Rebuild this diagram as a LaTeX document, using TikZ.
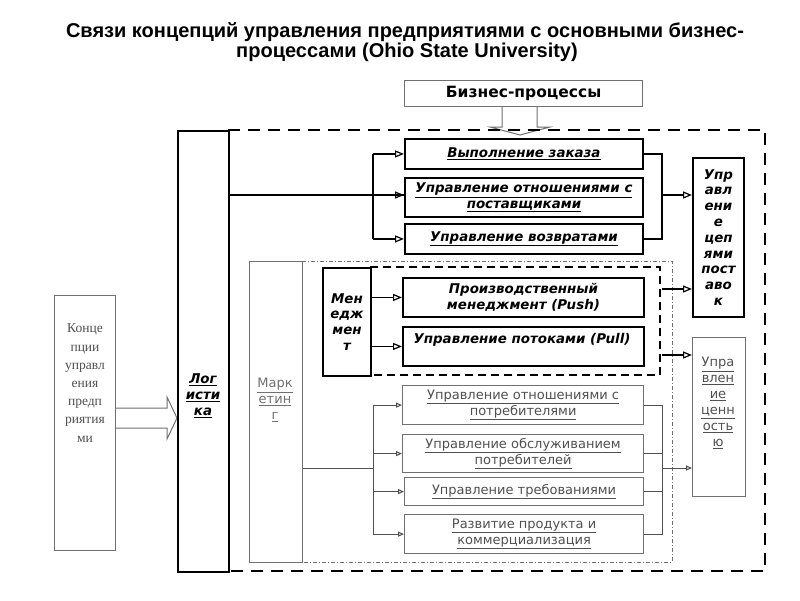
\documentclass[tikz,border=0pt]{standalone}
\usepackage{fontspec}
\setmainfont{DejaVu Sans}
\newfontfamily\titlefont{Liberation Sans}
\newfontfamily\serfont{Liberation Serif}
\usetikzlibrary{arrows.meta}
\definecolor{dgray}{HTML}{505050}
\definecolor{mgray}{HTML}{707070}
\newcommand\myul[1]{\underline{#1}}
\begin{document}
\begin{tikzpicture}[x=1pt,y=-1pt,line join=miter]
\tikzset{
 boxk/.style={draw=black, line width=1.9pt, fill=white, inner sep=0pt, anchor=north west, align=center},
 boxg/.style={draw=mgray, line width=1.2pt, fill=white, inner sep=0pt, anchor=north west, align=center},
 bi/.style={font=\fontsize{13.4}{15.8}\selectfont\bfseries\itshape},
 rg/.style={font=\fontsize{13}{16}\selectfont, text=dgray},
 conn/.style={line width=1.6pt, black},
 connarr/.style={conn, -{Triangle[open,length=9pt,width=7pt,line width=1.2pt]}},
 lconn/.style={line width=1pt, dgray},
 lconnarr/.style={lconn, -{Triangle[open,length=6pt,width=5pt]}},
 hollow/.style={draw=mgray, line width=1pt, fill=white},
 bigdash/.style={line width=1.9pt, dash pattern=on 12pt off 8pt},
 mdash/.style={line width=1.5pt, dash pattern=on 8pt off 5pt},
 ddot/.style={line width=0.8pt, mgray, dash pattern=on 4pt off 2pt on 1pt off 2pt},
}
\useasboundingbox (0,0) rectangle (800,600);
\fill[white] (0,0) rectangle (800,600);

% title
\node[anchor=base, font=\titlefont\fontsize{20}{22}\selectfont\bfseries] (t1) at (405,37) {Связи концепций управления предприятиями с основными бизнес-};
\node[anchor=base, font=\titlefont\fontsize{20}{22}\selectfont\bfseries] (t2) at (407,57) {процессами (Ohio State University)};

% hollow arrows
\draw[hollow] (502,106) -- (502,127) -- (490,127) -- (520,135) -- (550,127) -- (537,127) -- (537,106);
\draw[hollow] (115,408) -- (167,408) -- (167,397) -- (177,418) -- (167,439) -- (167,428) -- (115,428);

% frames
\draw[bigdash] (228,130) -- (765,130) -- (765,571) -- (228,571);
\draw[ddot] (302,261) -- (672,261) -- (672,562) -- (302,562);
\draw[mdash] (370,267) -- (660,267) -- (660,375) -- (370,375);

% nodes
\node[boxg, minimum width=238, minimum height=26, font=\fontsize{15.5}{17}\selectfont\bfseries] (bp) at (404,80) {Бизнес-процессы};
\node[boxk, minimum width=51, minimum height=441] (log) at (177,130) {};
\node[bi, align=center] (logt) at (203,396) {\myul{Лог}\\\myul{исти}\\\myul{ка}};

\node[boxk, bi, minimum width=238, minimum height=30] (vz) at (404,138) {\myul{Выполнение заказа}};
\node[boxk, bi, minimum width=238, minimum height=39] (uop) at (404,177) {\myul{Управление отношениями с}\\\myul{поставщиками}};
\node[boxk, bi, minimum width=238, minimum height=30] (uv) at (404,223) {\myul{Управление возвратами}};
\node[boxk, bi, minimum width=51, minimum height=159] (ucp) at (692,157) {Упр\\авл\\ени\\е\\цеп\\ями\\пост\\аво\\к};

\node[boxg, line width=1pt, minimum width=53, minimum height=301] (mkt) at (249,261) {};
\node[rg, text=mgray, align=center] (mktt) at (275,400) {\myul{Марк}\\\myul{етин}\\\myul{г}};

\node[boxk, bi, minimum width=48, minimum height=108] (men) at (322,267) {Мен\\едж\\мен\\т};
\node[boxk, bi, minimum width=241, minimum height=39] (pm) at (402,277) {Производственный\\менеджмент (Push)};
\node[boxk, minimum width=241, minimum height=39] (upp) at (402,326) {};
\node[bi, anchor=north] (uppt) at (522,330) {Управление потоками (Pull)};

\node[boxg, line width=1pt, minimum width=53, minimum height=159] (uc) at (692,337) {};
\node[rg, align=center] (uct) at (718,403) {\myul{Упра}\\\myul{влен}\\\myul{ие}\\\myul{ценн}\\\myul{ость}\\\myul{ю}};

\node[boxg, rg, minimum width=241, minimum height=39] (c1) at (402,385) {\myul{Управление отношениями с}\\\myul{потребителями}};
\node[boxg, rg, minimum width=241, minimum height=38] (c2) at (402,434) {\myul{Управление обслуживанием}\\\myul{потребителей}};
\node[boxg, rg, minimum width=239, minimum height=28] (c3) at (404,477) {\myul{Управление требованиями}};
\node[boxg, rg, minimum width=239, minimum height=39] (c4) at (404,514) {\myul{Развитие продукта и}\\\myul{коммерциализация}};

\node[boxg, line width=1pt, minimum width=61, minimum height=255] (conc) at (54,295) {};
\node[align=center, text=dgray, font=\serfont\fontsize{13.5}{18.2}\selectfont] (conct) at (85,383) {Конце\\пции\\управл\\ения\\предп\\риятия\\ми};

% upper connectors
\coordinate (ja) at (373,195);
\draw[conn] (log.east |- ja) -- (ja -| uop.west);
\draw[conn] (ja |- vz.west) -- (ja |- uv.west);
\draw[connarr] (ja |- vz.west) -- (vz.west);
\draw[connarr] (ja) -- (ja -| uop.west);
\draw[connarr] (ja |- uv.west) -- (uv.west);

\coordinate (jb) at (662,195);
\draw[conn] (vz.east) -- (jb |- vz.east) -- (jb |- uv.east) -- (uv.east);
\draw[connarr] (jb) -- (jb -| ucp.west);

% management
\draw[connarr] (men.east |- pm.west) -- (pm.west);
\draw[connarr] (men.east |- upp.west) -- (upp.west);
\coordinate (m1) at (662,289);
\coordinate (m2) at (662,355);
\draw[connarr] (m1) -- (m1 -| ucp.west);
\draw[connarr] (m2) -- (m2 -| uc.west);

% lower connectors
\coordinate (jc) at (373,468);
\draw[lconn] (mkt.east |- jc) -- (jc);
\draw[lconn] (jc |- c1.west) -- (jc |- c4.west);
\draw[lconnarr] (jc |- c1.west) -- (c1.west);
\draw[lconnarr] (jc |- c2.west) -- (c2.west);
\draw[lconnarr] (jc |- c3.west) -- (c3.west);
\draw[lconnarr] (jc |- c4.west) -- (c4.west);

\coordinate (jd) at (662,468);
\draw[lconn] (c1.east) -- (jd |- c1.east) -- (jd |- c4.east) -- (c4.east);
\draw[lconn] (c2.east) -- (jd |- c2.east);
\draw[lconn] (c3.east) -- (jd |- c3.east);
\draw[lconnarr] (jd) -- (jd -| uc.west);
\end{tikzpicture}
\end{document}
